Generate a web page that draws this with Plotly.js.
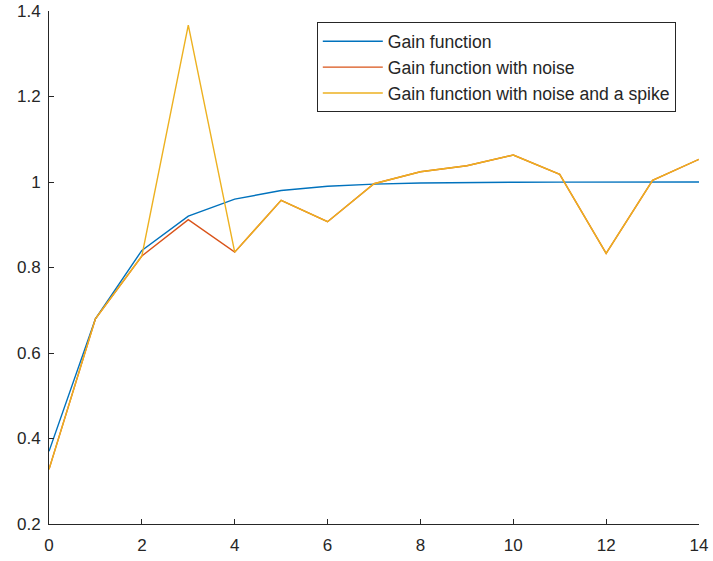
<!DOCTYPE html>
<html>
<head>
<meta charset="utf-8">
<script src="https://cdn.plot.ly/plotly-3.0.1.min.js"></script>
<style>html,body{margin:0;padding:0;background:#fff;}#chart{width:713px;height:561px;}</style>
</head>
<body>
<div id="chart"></div>
<script>
var xValues = [0, 1, 2, 3, 4, 5, 6, 7, 8, 9, 10, 11, 12, 13, 14];
var gain = [0.37, 0.68, 0.84, 0.92, 0.96, 0.98, 0.99, 0.995, 0.9975, 0.999, 0.9994, 0.9997, 0.9998, 0.9999, 1.0];
var gainNoise = [0.328, 0.68, 0.827, 0.912, 0.836, 0.957, 0.907, 0.996, 1.024, 1.038, 1.063, 1.018, 0.833, 1.004, 1.053];
var gainNoiseSpike = [0.328, 0.68, 0.827, 1.367, 0.836, 0.957, 0.907, 0.996, 1.024, 1.038, 1.063, 1.018, 0.833, 1.004, 1.053];
var seriesNames = ["Gain function", "Gain function with noise", "Gain function with noise and a spike"];
var xTicks = [0, 2, 4, 6, 8, 10, 12, 14];
var yTicks = [0.2, 0.4, 0.6, 0.8, 1, 1.2, 1.4];
var yTickText = ["0.2", "0.4", "0.6", "0.8", "1", "1.2", "1.4"];

var colors = ["#0072BD", "#D95319", "#EDB120"];
var series = [gain, gainNoise, gainNoiseSpike];
var traces = series.map(function (s, i) {
  return {
    x: xValues, y: s, type: "scatter", mode: "lines", name: seriesNames[i],
    line: {color: colors[i], width: 1.4}
  };
});

var axisCommon = {
  showline: true, linecolor: "#262626", linewidth: 1,
  ticks: "inside", ticklen: 5, tickcolor: "#262626", tickwidth: 1,
  showgrid: false, zeroline: false, mirror: false,
  tickfont: {family: "Liberation Sans, Arial, sans-serif", size: 17, color: "#262626"}
};

var layout = {
  width: 713, height: 561,
  margin: {l: 49, r: 14, t: 11, b: 37, pad: 0},
  paper_bgcolor: "#fff", plot_bgcolor: "#fff",
  showlegend: true,
  legend: {
    x: 0.412, y: 0.978, xanchor: "left", yanchor: "top",
    bgcolor: "#fff", bordercolor: "#262626", borderwidth: 1,
    font: {family: "Liberation Sans, Arial, sans-serif", size: 17.6, color: "#262626"},
    tracegroupgap: 0, itemwidth: 60
  },
  xaxis: Object.assign({}, axisCommon, {range: [0, 14], tickvals: xTicks, ticktext: xTicks.map(String), ticklabelstandoff: 6}),
  yaxis: Object.assign({}, axisCommon, {range: [0.2, 1.4], tickvals: yTicks, ticktext: yTickText, ticklabelstandoff: 4})
};

Plotly.newPlot("chart", traces, layout, {displayModeBar: false, staticPlot: true});
</script>
</body>
</html>
